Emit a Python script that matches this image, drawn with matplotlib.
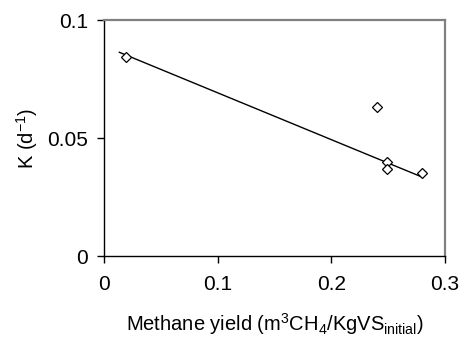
"""
Decay constant K versus methane yield
Scatter with linear trend line
"""

import matplotlib.pyplot as plt
import numpy as np

plt.rcParams.update({
    'font.family': 'Liberation Sans',
    'mathtext.fontset': 'custom',
    'mathtext.rm': 'Liberation Sans',
    'mathtext.it': 'Liberation Sans',
    'font.size': 15,
})

# data
methane_yield = [0.019, 0.240, 0.249, 0.249, 0.280]
k_values = [0.0842, 0.0633, 0.0400, 0.0367, 0.0350]

# trend line (as drawn in the figure)
trend_x = [0.0135, 0.2804]
slope = -0.1985
intercept = 0.0890

x_ticks = [0, 0.1, 0.2, 0.3]
x_ticklabels = ['0', '0.1', '0.2', '0.3']
y_ticks = [0, 0.05, 0.1]
y_ticklabels = ['0', '0.05', '0.1']

fig = plt.figure(figsize=(4.61, 3.38), dpi=100)
ax = fig.add_axes([0.2256, 0.2426, 0.7397, 0.6982])

tx = np.array(trend_x)
ax.plot(tx, intercept + slope * tx, color='black', linewidth=1.0, zorder=2)
ax.plot(methane_yield, k_values, linestyle='none', marker='D', markersize=4.8,
        markerfacecolor='white', markeredgecolor='black', markeredgewidth=0.9,
        zorder=3)

ax.set_xlim(0, 0.3)
ax.set_ylim(0, 0.1)
ax.set_xticks(x_ticks)
ax.set_xticklabels(x_ticklabels)
ax.set_yticks(y_ticks)
ax.set_yticklabels(y_ticklabels)

for side in ['left', 'bottom']:
    ax.spines[side].set_color('black')
    ax.spines[side].set_linewidth(1.0)
for side in ['top', 'right']:
    ax.spines[side].set_color('#808080')
    ax.spines[side].set_linewidth(1.6)

ax.tick_params(direction='out', length=5, width=1.0, color='black',
               labelsize=15)
ax.tick_params(axis='x', pad=9)
ax.tick_params(axis='y', pad=6.5)

ax.set_xlabel(r'Methane yield (m$^3$CH$_4$/KgVS$_{\mathrm{initial}}$)',
              fontsize=14.5, labelpad=12)
ax.set_ylabel(r'K (d$^{-1}$)', fontsize=14.5, labelpad=5)

plt.savefig('out.png', dpi=100)
plt.close()
